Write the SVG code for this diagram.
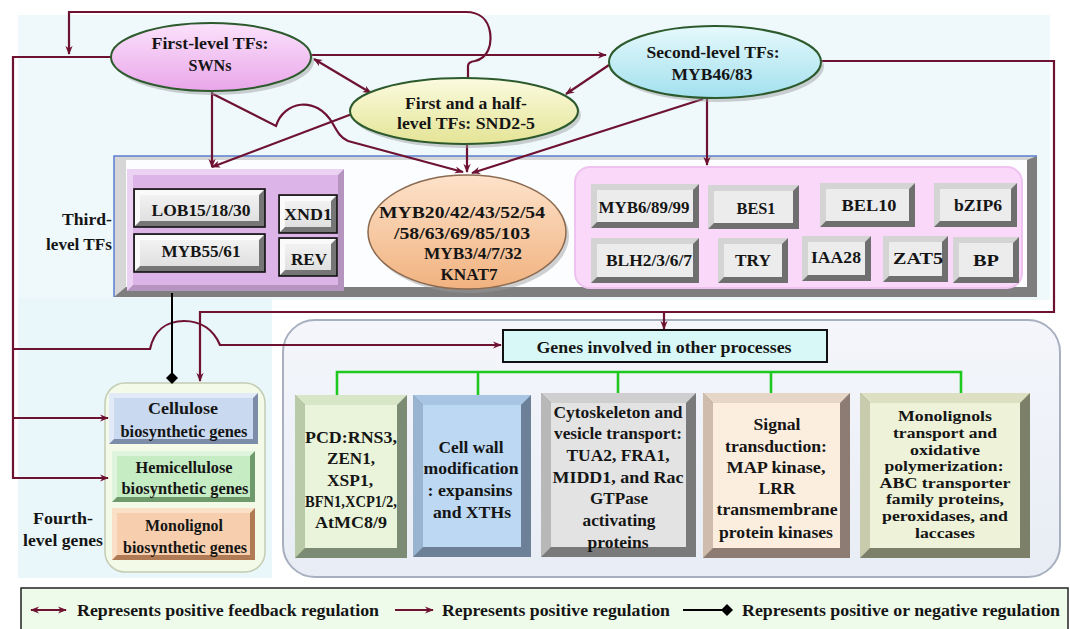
<svg xmlns="http://www.w3.org/2000/svg" width="1070" height="629" viewBox="0 0 1070 629" font-family="'Liberation Serif', 'DejaVu Serif', serif">
<style>
text{font-family:'Liberation Serif','DejaVu Serif',serif}
.t{font-weight:bold;fill:#151515;text-anchor:middle;dominant-baseline:central;font-size:17.5px}
.r{text-anchor:end}
.l{text-anchor:start}
.m{font-size:16.5px}
.n{font-size:15px}
.c{fill:none;stroke:#6e1232;stroke-width:2.2}
.g{fill:none;stroke:#1ec81e;stroke-width:2.6}
.ea{stroke:#2d5a2d;stroke-width:2}
.sh{fill:#9a9a9a;opacity:.45}
</style>
<defs>
<marker id="ar" viewBox="0 0 10 10" refX="9" refY="5" markerWidth="9" markerHeight="9" markerUnits="userSpaceOnUse" orient="auto-start-reverse"><path d="M0,1 L10,5 L0,9 L3,5 z" fill="#6e1232"/></marker>
<marker id="dm" viewBox="0 0 10 10" refX="5" refY="5" markerWidth="12" markerHeight="12" markerUnits="userSpaceOnUse" orient="auto"><path d="M5,0 L10,5 L5,10 L0,5 z" fill="#000"/></marker>
<linearGradient id="gSWN" x1="0" y1="0" x2="0" y2="1"><stop offset="0" stop-color="#fbe2fb"/><stop offset="1" stop-color="#e9a6ea"/></linearGradient>
<linearGradient id="gSND" x1="0" y1="0" x2="0" y2="1"><stop offset="0" stop-color="#fbfbe0"/><stop offset="1" stop-color="#e4e496"/></linearGradient>
<linearGradient id="gMYB" x1="0" y1="0" x2="0" y2="1"><stop offset="0" stop-color="#e6f9fc"/><stop offset="1" stop-color="#a2e0ee"/></linearGradient>
<linearGradient id="gKN" x1="0" y1="0" x2="0" y2="1"><stop offset="0" stop-color="#fde2ca"/><stop offset="1" stop-color="#f1b27f"/></linearGradient>
<linearGradient id="gBtn" x1="0" y1="0" x2="0" y2="1"><stop offset="0" stop-color="#f2f2f2"/><stop offset="1" stop-color="#e0e0e0"/></linearGradient>
<linearGradient id="gBig" x1="0" y1="0" x2="0" y2="1"><stop offset="0" stop-color="#f4f6fb"/><stop offset="1" stop-color="#e8ecf4"/></linearGradient>
</defs>

<g id="background">
<rect x="0" y="0" width="1070" height="629" fill="#ffffff"/>
<rect x="18" y="15" width="1032" height="285" fill="#eff9fc"/>
<rect x="18" y="298" width="254" height="280" fill="#eaf7fa"/>
</g>

<g id="third-level-box">
<rect x="114" y="156" width="923" height="141" fill="#7e7e7e"/>
<polygon points="114,156 1037,156 1027,160 126,160 126,287 114,297" fill="#d6d6d6"/>
<rect x="126" y="160" width="901" height="127" fill="#fbfdff"/>
<polyline points="114,297 114,156 1037,156" fill="none" stroke="#5b7fd0" stroke-width="1.5"/>
<text class="t r" x="112" y="219" textLength="50" lengthAdjust="spacingAndGlyphs">Third-</text>
<text class="t r" x="112" y="244" textLength="66" lengthAdjust="spacingAndGlyphs">level TFs</text>
</g>

<g id="purple-group">
<rect x="127" y="169" width="217" height="122" fill="#b594bf"/>
<polygon points="127,169 344,169 338,175 133,175 133,285 127,291" fill="#ecd2f2"/>
<rect x="133" y="175" width="205" height="110" fill="#ddb4e7"/>
</g>
<g id="LOB15">
<rect x="134" y="189" width="131" height="38" fill="#767676" stroke="#111" stroke-width="1.6"/>
<polygon points="135,190 264,190 259,195 140,195 140,221 135,226" fill="#fafafa"/>
<rect x="140" y="195" width="119" height="26" fill="url(#gBtn)"/>
<text class="t" x="201" y="210" textLength="99" lengthAdjust="spacingAndGlyphs">LOB15/18/30</text>
</g>
<g id="MYB55">
<rect x="134" y="234" width="131" height="38" fill="#767676" stroke="#111" stroke-width="1.6"/>
<polygon points="135,235 264,235 259,240 140,240 140,266 135,271" fill="#fafafa"/>
<rect x="140" y="240" width="119" height="26" fill="url(#gBtn)"/>
<text class="t" x="201" y="251" textLength="79" lengthAdjust="spacingAndGlyphs">MYB55/61</text>
</g>
<g id="XND1">
<rect x="279" y="195" width="58" height="38" fill="#767676" stroke="#111" stroke-width="1.6"/>
<polygon points="280,196 336,196 331,201 285,201 285,227 280,232" fill="#fafafa"/>
<rect x="285" y="201" width="46" height="26" fill="url(#gBtn)"/>
<text class="t" x="308" y="214" textLength="48" lengthAdjust="spacingAndGlyphs">XND1</text>
</g>
<g id="REV">
<rect x="279" y="238" width="58" height="38" fill="#767676" stroke="#111" stroke-width="1.6"/>
<polygon points="280,239 336,239 331,244 285,244 285,270 280,275" fill="#fafafa"/>
<rect x="285" y="244" width="46" height="26" fill="url(#gBtn)"/>
<text class="t" x="309" y="259" textLength="36" lengthAdjust="spacingAndGlyphs">REV</text>
</g>

<g id="KNAT7">
<ellipse class="sh" cx="470" cy="236" rx="99" ry="57"/>
<ellipse cx="467" cy="232" rx="99" ry="57" fill="url(#gKN)" stroke="#8b6a50" stroke-width="1.5"/>
<text class="t" x="462" y="212" textLength="166" lengthAdjust="spacingAndGlyphs">MYB20/42/43/52/54</text>
<text class="t" x="462" y="233" textLength="136" lengthAdjust="spacingAndGlyphs">/58/63/69/85/103</text>
<text class="t" x="473" y="253" textLength="98" lengthAdjust="spacingAndGlyphs">MYB3/4/7/32</text>
<text class="t" x="469" y="274" textLength="57" lengthAdjust="spacingAndGlyphs">KNAT7</text>
</g>

<g id="pink-group">
<rect x="575" y="167" width="447" height="121" rx="15" fill="#f9d8f9" stroke="#efc2f0" stroke-width="2"/>
</g>
<g id="MYB6">
<rect x="591" y="184" width="108" height="44" fill="#6f6f6f"/>
<polygon points="591,184 699,184 693,190 597,190 597,222 591,228" fill="#d4d4d4"/>
<rect x="597" y="190" width="96" height="32" fill="#ececec"/>
<text class="t" x="644" y="207" textLength="91" lengthAdjust="spacingAndGlyphs">MYB6/89/99</text>
</g>
<g id="BES1">
<rect x="708" y="185" width="91" height="44" fill="#6f6f6f"/>
<polygon points="708,185 799,185 793,191 714,191 714,223 708,229" fill="#d4d4d4"/>
<rect x="714" y="191" width="79" height="32" fill="#ececec"/>
<text class="t" x="756" y="208" textLength="39" lengthAdjust="spacingAndGlyphs">BES1</text>
</g>
<g id="BEL10">
<rect x="820" y="183" width="95" height="44" fill="#6f6f6f"/>
<polygon points="820,183 915,183 909,189 826,189 826,221 820,227" fill="#d4d4d4"/>
<rect x="826" y="189" width="83" height="32" fill="#ececec"/>
<text class="t" x="869" y="205" textLength="55" lengthAdjust="spacingAndGlyphs">BEL10</text>
</g>
<g id="bZIP6">
<rect x="934" y="183" width="83" height="44" fill="#6f6f6f"/>
<polygon points="934,183 1017,183 1011,189 940,189 940,221 934,227" fill="#d4d4d4"/>
<rect x="940" y="189" width="71" height="32" fill="#ececec"/>
<text class="t" x="978" y="205" textLength="48" lengthAdjust="spacingAndGlyphs">bZIP6</text>
</g>
<g id="BLH2">
<rect x="591" y="238" width="108" height="45" fill="#6f6f6f"/>
<polygon points="591,238 699,238 693,244 597,244 597,277 591,283" fill="#d4d4d4"/>
<rect x="597" y="244" width="96" height="33" fill="#ececec"/>
<text class="t" x="649" y="260" textLength="86" lengthAdjust="spacingAndGlyphs">BLH2/3/6/7</text>
</g>
<g id="TRY">
<rect x="718" y="238" width="70" height="45" fill="#6f6f6f"/>
<polygon points="718,238 788,238 782,244 724,244 724,277 718,283" fill="#d4d4d4"/>
<rect x="724" y="244" width="58" height="33" fill="#ececec"/>
<text class="t" x="753" y="260" textLength="36" lengthAdjust="spacingAndGlyphs">TRY</text>
</g>
<g id="IAA28">
<rect x="802" y="236" width="69" height="45" fill="#6f6f6f"/>
<polygon points="802,236 871,236 865,242 808,242 808,275 802,281" fill="#d4d4d4"/>
<rect x="808" y="242" width="57" height="33" fill="#ececec"/>
<text class="t" x="836" y="257" textLength="50" lengthAdjust="spacingAndGlyphs">IAA28</text>
</g>
<g id="ZAT5">
<rect x="883" y="236" width="65" height="46" fill="#6f6f6f"/>
<polygon points="883,236 948,236 942,242 889,242 889,276 883,282" fill="#d4d4d4"/>
<rect x="889" y="242" width="53" height="34" fill="#ececec"/>
<text class="t" x="918" y="258" textLength="50" lengthAdjust="spacingAndGlyphs">ZAT5</text>
</g>
<g id="BP">
<rect x="953" y="237" width="66" height="46" fill="#6f6f6f"/>
<polygon points="953,237 1019,237 1013,243 959,243 959,277 953,283" fill="#d4d4d4"/>
<rect x="959" y="243" width="54" height="34" fill="#ececec"/>
<text class="t" x="986" y="260" textLength="26" lengthAdjust="spacingAndGlyphs">BP</text>
</g>

<g id="fourth-level">
<rect x="105" y="383" width="160" height="189" rx="20" fill="#f3fae7" stroke="#c4ccb4" stroke-width="1.5"/>
<text class="t" x="63" y="518" textLength="60" lengthAdjust="spacingAndGlyphs">Fourth-</text>
<text class="t" x="63" y="540" textLength="80" lengthAdjust="spacingAndGlyphs">level genes</text>
</g>
<g id="cellulose">
<rect x="109" y="393" width="149" height="51" fill="#7d8ca8"/>
<polygon points="109,393 258,393 253,398 114,398 114,439 109,444" fill="#e2eaf8"/>
<rect x="114" y="398" width="139" height="41" fill="#c9d9ef"/>
<text class="t" x="183" y="408" textLength="70" lengthAdjust="spacingAndGlyphs">Cellulose</text>
<text class="t" x="184" y="431" textLength="127" lengthAdjust="spacingAndGlyphs">biosynthetic genes</text>
</g>
<g id="hemicellulose">
<rect x="112" y="451" width="143" height="51" fill="#6f9a6c"/>
<polygon points="112,451 255,451 250,456 117,456 117,497 112,502" fill="#def4dc"/>
<rect x="117" y="456" width="133" height="41" fill="#c6ecc4"/>
<text class="t" x="184" y="467" textLength="97" lengthAdjust="spacingAndGlyphs">Hemicellulose</text>
<text class="t" x="185" y="488" textLength="127" lengthAdjust="spacingAndGlyphs">biosynthetic genes</text>
</g>
<g id="monolignol">
<rect x="112" y="508" width="143" height="52" fill="#b07a55"/>
<polygon points="112,508 255,508 250,513 117,513 117,555 112,560" fill="#fbe0c8"/>
<rect x="117" y="513" width="133" height="42" fill="#f7cfae"/>
<text class="t" x="184" y="525" textLength="78" lengthAdjust="spacingAndGlyphs">Monolignol</text>
<text class="t" x="185" y="547" textLength="124" lengthAdjust="spacingAndGlyphs">biosynthetic genes</text>
</g>

<g id="other-processes">
<rect x="283" y="320" width="777" height="257" rx="32" fill="url(#gBig)" stroke="#a8b0c0" stroke-width="2"/>
</g>
<g id="genes-box">
<rect x="503" y="330" width="324" height="32" fill="#d8f8f8" stroke="#111" stroke-width="2"/>
<text class="t" x="664" y="347" textLength="255" lengthAdjust="spacingAndGlyphs">Genes involved in other processes</text>
</g>
<g id="PCD">
<rect x="295" y="395" width="112" height="163" fill="#7c8c74"/>
<polygon points="295,395 407,395 397,405 305,405" fill="#d8e6c8"/>
<polygon points="295,395 305,405 305,548 295,558" fill="#b9caa8"/>
<rect x="305" y="405" width="92" height="143" fill="#e9f4da"/>
<text class="t" x="351" y="437" textLength="92" lengthAdjust="spacingAndGlyphs">PCD:RNS3,</text>
<text class="t" x="351" y="458" textLength="48" lengthAdjust="spacingAndGlyphs">ZEN1,</text>
<text class="t" x="350" y="480" textLength="46" lengthAdjust="spacingAndGlyphs">XSP1,</text>
<text class="t" x="351" y="501" textLength="92" lengthAdjust="spacingAndGlyphs">BFN1,XCP1/2,</text>
<text class="t" x="351" y="522" textLength="72" lengthAdjust="spacingAndGlyphs">AtMC8/9</text>
</g>
<g id="cell-wall">
<rect x="413" y="395" width="118" height="162" fill="#6c8098"/>
<polygon points="413,395 531,395 521,405 423,405" fill="#a8c6e4"/>
<polygon points="413,395 423,405 423,547 413,557" fill="#98b4d0"/>
<rect x="423" y="405" width="98" height="142" fill="#bcd8f2"/>
<text class="t" x="471" y="447" textLength="65" lengthAdjust="spacingAndGlyphs">Cell wall</text>
<text class="t" x="471" y="468" textLength="95" lengthAdjust="spacingAndGlyphs">modification</text>
<text class="t" x="470" y="490" textLength="85" lengthAdjust="spacingAndGlyphs">: expansins</text>
<text class="t" x="472" y="512" textLength="78" lengthAdjust="spacingAndGlyphs">and XTHs</text>
</g>
<g id="cytoskeleton">
<rect x="541" y="393" width="155" height="164" fill="#7a7a7a"/>
<polygon points="541,393 696,393 686,403 551,403" fill="#cfcfcf"/>
<polygon points="541,393 551,403 551,547 541,557" fill="#b8b8b8"/>
<rect x="551" y="403" width="135" height="144" fill="#e3e3e3"/>
<text class="t" x="618" y="412" textLength="129" lengthAdjust="spacingAndGlyphs">Cytoskeleton and</text>
<text class="t" x="618" y="433" textLength="128" lengthAdjust="spacingAndGlyphs">vesicle transport:</text>
<text class="t" x="618" y="455" textLength="103" lengthAdjust="spacingAndGlyphs">TUA2, FRA1,</text>
<text class="t" x="618" y="477" textLength="131" lengthAdjust="spacingAndGlyphs">MIDD1, and Rac</text>
<text class="t" x="619" y="498" textLength="58" lengthAdjust="spacingAndGlyphs">GTPase</text>
<text class="t" x="619" y="520" textLength="73" lengthAdjust="spacingAndGlyphs">activating</text>
<text class="t" x="618" y="542" textLength="61" lengthAdjust="spacingAndGlyphs">proteins</text>
</g>
<g id="signal">
<rect x="703" y="393" width="147" height="165" fill="#8c7c74"/>
<polygon points="703,393 850,393 840,403 713,403" fill="#e6d6c8"/>
<polygon points="703,393 713,403 713,548 703,558" fill="#d0bcac"/>
<rect x="713" y="403" width="127" height="145" fill="#fbeede"/>
<text class="t" x="777" y="424" textLength="47" lengthAdjust="spacingAndGlyphs">Signal</text>
<text class="t" x="776" y="446" textLength="102" lengthAdjust="spacingAndGlyphs">transduction:</text>
<text class="t" x="776" y="467" textLength="99" lengthAdjust="spacingAndGlyphs">MAP kinase,</text>
<text class="t" x="777" y="488" textLength="37" lengthAdjust="spacingAndGlyphs">LRR</text>
<text class="t" x="777" y="509" textLength="121" lengthAdjust="spacingAndGlyphs">transmembrane</text>
<text class="t" x="776" y="532" textLength="114" lengthAdjust="spacingAndGlyphs">protein kinases</text>
</g>
<g id="monolignols-transport">
<rect x="860" y="393" width="170" height="165" fill="#7c8068"/>
<polygon points="860,393 1030,393 1020,403 870,403" fill="#dcdfc2"/>
<polygon points="860,393 870,403 870,548 860,558" fill="#c8ccac"/>
<rect x="870" y="403" width="150" height="145" fill="#eef2d9"/>
<text class="t n" x="945" y="416" textLength="94" lengthAdjust="spacingAndGlyphs">Monolignols</text>
<text class="t n" x="945" y="433" textLength="104" lengthAdjust="spacingAndGlyphs">transport and</text>
<text class="t n" x="945" y="450" textLength="70" lengthAdjust="spacingAndGlyphs">oxidative</text>
<text class="t n" x="944" y="466" textLength="119" lengthAdjust="spacingAndGlyphs">polymerization:</text>
<text class="t n" x="945" y="483" textLength="131" lengthAdjust="spacingAndGlyphs">ABC transporter</text>
<text class="t n" x="945" y="499" textLength="118" lengthAdjust="spacingAndGlyphs">family proteins,</text>
<text class="t n" x="945" y="516" textLength="126" lengthAdjust="spacingAndGlyphs">peroxidases, and</text>
<text class="t n" x="945" y="533" textLength="60" lengthAdjust="spacingAndGlyphs">laccases</text>
</g>

<g id="connectors">
<path class="c" d="M468,78 V66 Q468,62 475,61 C488,58 492,45 490,32 C488,20 480,12 466,12 H69 V54" marker-end="url(#ar)"/>
<path class="c" d="M311,55 H606" marker-end="url(#ar)"/>
<path class="c" d="M314,59 L371,93" marker-start="url(#ar)" marker-end="url(#ar)"/>
<path class="c" d="M212,91 V167" marker-end="url(#ar)"/>
<path class="c" d="M213,94 L276,126 C283,102 316,94 333,124 C338,133 341,138 348,141 L463,172" marker-end="url(#ar)"/>
<path class="c" d="M352,114 L212,167" marker-end="url(#ar)"/>
<path class="c" d="M467,145 V172" marker-end="url(#ar)"/>
<path class="c" d="M609,65 L566,94" marker-end="url(#ar)"/>
<path class="c" d="M703,99 L472,173" marker-end="url(#ar)"/>
<path class="c" d="M707,98 V165" marker-end="url(#ar)"/>
<path class="c" d="M821,61 H1054 V312 H200 V381" marker-end="url(#ar)"/>
<path class="c" d="M664,312 V329" marker-end="url(#ar)"/>
<path class="c" d="M111,57 H13 V478 H108" marker-end="url(#ar)"/>
<path class="c" d="M13,418 H108" marker-end="url(#ar)"/>
<path class="c" d="M13,349 H150 C154,331 166,321 184,321 C202,321 214,331 220,345 H501" marker-end="url(#ar)"/>
<path d="M172,293 V378" fill="none" stroke="#000" stroke-width="2" marker-end="url(#dm)"/>
<path class="g" d="M337,395 V372 H961 V393"/>
<path class="g" d="M478,372 V395"/>
<path class="g" d="M618,372 V393"/>
<path class="g" d="M771,372 V393"/>
</g>

<g id="SWNs">
<ellipse class="sh" cx="214" cy="61" rx="100" ry="34"/>
<ellipse class="ea" cx="211" cy="57" rx="100" ry="34" fill="url(#gSWN)"/>
<text class="t" x="210" y="43" textLength="117" lengthAdjust="spacingAndGlyphs">First-level TFs:</text>
<text class="t" x="210" y="65" textLength="43" lengthAdjust="spacingAndGlyphs">SWNs</text>
</g>
<g id="SND2-5">
<ellipse class="sh" cx="467" cy="115" rx="114" ry="33"/>
<ellipse class="ea" cx="464" cy="111" rx="114" ry="33" fill="url(#gSND)"/>
<text class="t" x="466" y="103" textLength="122" lengthAdjust="spacingAndGlyphs">First and a half-</text>
<text class="t" x="466" y="123" textLength="138" lengthAdjust="spacingAndGlyphs">level TFs: SND2-5</text>
</g>
<g id="MYB46">
<ellipse class="sh" cx="718" cy="66" rx="106" ry="36"/>
<ellipse class="ea" cx="715" cy="62" rx="106" ry="36" fill="url(#gMYB)"/>
<text class="t" x="713" y="52" textLength="133" lengthAdjust="spacingAndGlyphs">Second-level TFs:</text>
<text class="t" x="712" y="74" textLength="81" lengthAdjust="spacingAndGlyphs">MYB46/83</text>
</g>

<g id="legend">
<rect x="21" y="588" width="1047" height="45" fill="#effbea" stroke="#222" stroke-width="1.5"/>
<path class="c" d="M31,610 H66" marker-start="url(#ar)" marker-end="url(#ar)"/>
<text class="t l m" x="77" y="610" textLength="302" lengthAdjust="spacingAndGlyphs">Represents positive feedback regulation</text>
<path class="c" d="M395,610 H433" marker-end="url(#ar)"/>
<text class="t l m" x="442" y="610" textLength="228" lengthAdjust="spacingAndGlyphs">Represents positive regulation</text>
<path d="M683,610 H727" fill="none" stroke="#000" stroke-width="2.2" marker-end="url(#dm)"/>
<text class="t l m" x="742" y="610" textLength="318" lengthAdjust="spacingAndGlyphs">Represents positive or negative regulation</text>
</g>
</svg>
